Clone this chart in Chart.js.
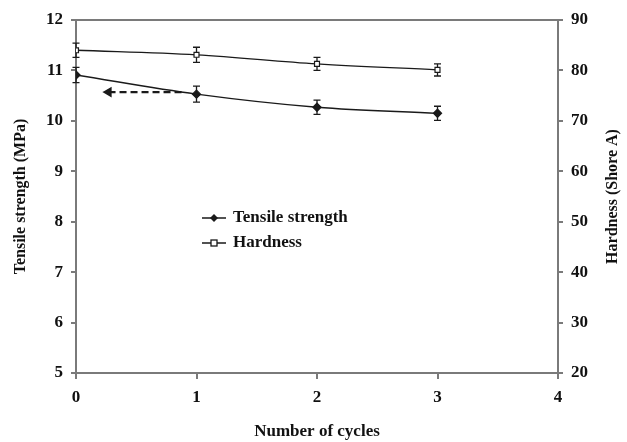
<!DOCTYPE html>
<html><head><meta charset="utf-8">
<script src="https://cdn.jsdelivr.net/npm/chart.js@4"></script>
<style>html,body{margin:0;padding:0;background:#fff;}#c{display:block;}</style>
</head><body>
<canvas id="c" width="627" height="442"></canvas>
<script>
const cycles = [0, 1, 2, 3];
const tensile = [10.91, 10.53, 10.27, 10.15];
const tensileErr = [0.15, 0.16, 0.14, 0.14];
const hardness = [84.0, 83.1, 81.3, 80.1];
const hardnessErr = [1.4, 1.5, 1.3, 1.2];
const arrowX = [0.27, 0.9];
const arrowY = [10.57, 10.57];
const xTicks = [0, 1, 2, 3, 4];
const leftTicks = [5, 6, 7, 8, 9, 10, 11, 12];
const rightTicks = [20, 30, 40, 50, 60, 70, 80, 90];

const FONT = "'Liberation Serif', 'DejaVu Serif', serif";
const AX = '#7a7a7a';
const LINE = '#1a1a1a';

const errorBars = {
  id: 'errorBars',
  beforeDatasetsDraw(chart) {
    const ctx = chart.ctx;
    const xs = chart.scales.x;
    const sets = [
      {v: tensile, e: tensileErr, s: chart.scales.y},
      {v: hardness, e: hardnessErr, s: chart.scales.y2}
    ];
    ctx.save();
    ctx.strokeStyle = LINE;
    ctx.lineWidth = 1.3;
    sets.forEach(set => {
      set.v.forEach((val, i) => {
        const px = xs.getPixelForValue(cycles[i]);
        const t = set.s.getPixelForValue(val + set.e[i]);
        const b = set.s.getPixelForValue(val - set.e[i]);
        ctx.beginPath();
        ctx.moveTo(px, t); ctx.lineTo(px, b);
        ctx.moveTo(px - 3.5, t); ctx.lineTo(px + 3.5, t);
        ctx.moveTo(px - 3.5, b); ctx.lineTo(px + 3.5, b);
        ctx.stroke();
      });
    });
    ctx.restore();
  }
};

const frame = {
  id: 'frame',
  afterDraw(chart) {
    const ctx = chart.ctx, a = chart.chartArea;
    ctx.save();
    ctx.strokeStyle = AX; ctx.lineWidth = 2;
    ctx.beginPath();
    ctx.moveTo(a.left, a.top); ctx.lineTo(a.right, a.top);
    ctx.stroke();
    // right axis title (reads bottom to top)
    ctx.save();
    ctx.translate(613, (a.top + a.bottom) / 2);
    ctx.rotate(-Math.PI / 2);
    ctx.fillStyle = '#111';
    ctx.font = "bold 16px " + FONT;
    ctx.textAlign = 'center';
    ctx.textBaseline = 'middle';
    ctx.fillText('Hardness (Shore A)', 0, 0);
    ctx.restore();
    // legend
    const lx = a.left + 126, ly1 = a.top + 198, ly2 = a.top + 223;
    ctx.strokeStyle = LINE; ctx.lineWidth = 1.3;
    ctx.beginPath();
    ctx.moveTo(lx, ly1); ctx.lineTo(lx + 24, ly1);
    ctx.moveTo(lx, ly2); ctx.lineTo(lx + 24, ly2);
    ctx.stroke();
    ctx.fillStyle = LINE;
    ctx.beginPath();
    ctx.moveTo(lx + 12, ly1 - 4); ctx.lineTo(lx + 16, ly1); ctx.lineTo(lx + 12, ly1 + 4); ctx.lineTo(lx + 8, ly1);
    ctx.closePath(); ctx.fill();
    ctx.fillStyle = '#fff';
    ctx.fillRect(lx + 9, ly2 - 3, 6, 6);
    ctx.strokeRect(lx + 9, ly2 - 3, 6, 6);
    ctx.fillStyle = '#111';
    ctx.font = "bold 17px " + FONT;
    ctx.textAlign = 'left';
    ctx.textBaseline = 'middle';
    ctx.fillText('Tensile strength', lx + 31, ly1);
    ctx.fillText('Hardness', lx + 31, ly2);
    ctx.restore();
  }
};

new Chart(document.getElementById('c'), {
  type: 'line',
  data: {
    datasets: [
      {
        label: 'Tensile strength',
        data: cycles.map((c, i) => ({x: c, y: tensile[i]})),
        yAxisID: 'y',
        borderColor: LINE, borderWidth: 1.3,
        pointStyle: 'rectRot', pointRadius: 4,
        pointBackgroundColor: LINE, pointBorderColor: LINE,
        tension: 0.35, fill: false
      },
      {
        label: 'Hardness',
        data: cycles.map((c, i) => ({x: c, y: hardness[i]})),
        yAxisID: 'y2',
        borderColor: LINE, borderWidth: 1.3,
        pointStyle: 'rect', pointRadius: 3.5,
        pointBackgroundColor: '#fff', pointBorderColor: LINE, pointBorderWidth: 1.2,
        tension: 0.35, fill: false
      },
      {
        label: 'arrow',
        data: arrowX.map((x, i) => ({x: x, y: arrowY[i]})),
        yAxisID: 'y',
        borderColor: LINE, borderWidth: 2.2, borderDash: [7, 4],
        pointStyle: ['triangle', false], pointRadius: [4, 0],
        pointRotation: -90,
        pointBackgroundColor: LINE, pointBorderColor: LINE,
        fill: false
      }
    ]
  },
  options: {
    responsive: false,
    animation: false,
    events: [],
    layout: {padding: {top: 20, left: 0, right: 0, bottom: 0}},
    plugins: {legend: {display: false}, tooltip: {enabled: false}},
    scales: {
      x: {
        type: 'linear', min: 0, max: 4,
        afterBuildTicks: s => { s.ticks = xTicks.map(v => ({value: v})); },
        afterFit: s => { s.height = 69; },
        grid: {display: true, drawOnChartArea: false, color: AX, tickLength: 6, lineWidth: 2},
        border: {color: AX, width: 2},
        ticks: {color: '#111', font: {family: FONT, size: 17, weight: 'bold'}, padding: 8},
        title: {display: true, text: 'Number of cycles', color: '#111', font: {family: FONT, size: 17, weight: 'bold'}, padding: {top: 0, bottom: 0}}
      },
      y: {
        type: 'linear', position: 'left', min: 5, max: 12,
        afterBuildTicks: s => { s.ticks = leftTicks.map(v => ({value: v})); },
        afterFit: s => { s.width = 76; },
        grid: {display: true, drawOnChartArea: false, color: AX, tickLength: 5, lineWidth: 2},
        border: {color: AX, width: 2},
        ticks: {color: '#111', font: {family: FONT, size: 17, weight: 'bold'}, padding: 8},
        title: {display: true, text: 'Tensile strength (MPa)', color: '#111', font: {family: FONT, size: 16, weight: 'bold'}, padding: {top: 11, bottom: 0}}
      },
      y2: {
        type: 'linear', position: 'right', min: 20, max: 90,
        afterBuildTicks: s => { s.ticks = rightTicks.map(v => ({value: v})); },
        afterFit: s => { s.width = 69; },
        grid: {display: true, drawOnChartArea: false, color: AX, tickLength: 5, lineWidth: 2},
        border: {color: AX, width: 2},
        ticks: {color: '#111', font: {family: FONT, size: 17, weight: 'bold'}, padding: 8},
        title: {display: false}
      }
    }
  },
  plugins: [errorBars, frame]
});
</script>
</body></html>
